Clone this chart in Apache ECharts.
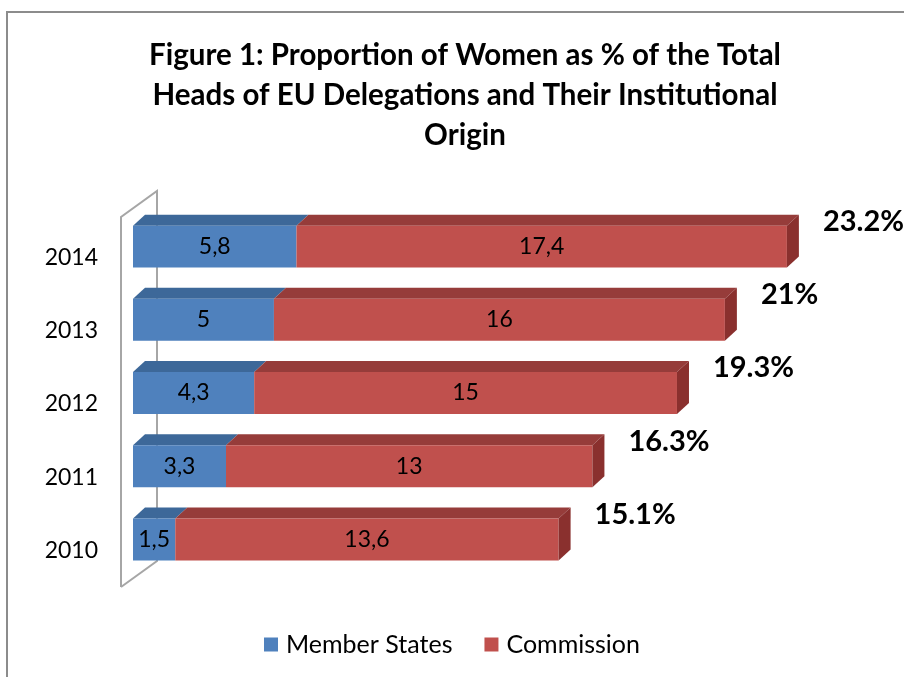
<!DOCTYPE html>
<html>
<head>
<meta charset="utf-8">
<script src="https://cdn.jsdelivr.net/npm/echarts@6/dist/echarts.min.js"></script>
<style>
  html, body { margin: 0; padding: 0; background: #fff; }
  #chart { width: 904px; height: 677px; }
</style>
</head>
<body>
<div id="chart"></div>
<script>
// data (bottom to top)
const years = ['2010', '2011', '2012', '2013', '2014'];
const memberStates = [1.5, 3.3, 4.3, 5, 5.8];
const commission = [13.6, 13, 15, 16, 17.4];
const totals = [15.1, 16.3, 19.3, 21, 23.2];

const FONT = 'Lato, "Open Sans", sans-serif';

// comma decimals like the original
const fmt = v => String(v).replace('.', ',');

// 3D-looking bar segment: top face, front face, optional right side
function barRenderer(colors, withSide) {
    return function (params, api) {
        const cat = api.value(0);
        const p0 = api.coord([api.value(1), cat]);
        const p1 = api.coord([api.value(2), cat]);
        const band = api.size([0, 1])[1];
        const h = band * 0.573;
        const dx = 12, dy = 11;
        const x0 = p0[0], x1 = p1[0];
        const y0 = p0[1] - band * 0.15 - h / 2;

        const children = [
            {
                type: 'polygon',
                shape: { points: [[x0, y0], [x1, y0], [x1 + dx, y0 - dy], [x0 + dx, y0 - dy]] },
                style: { fill: colors.top }
            },
            {
                type: 'rect',
                shape: { x: x0, y: y0, width: x1 - x0, height: h },
                style: { fill: colors.front }
            },
            {
                type: 'text',
                x: (x0 + x1) / 2, y: y0 + h / 2,
                style: {
                    text: fmt(api.value(3)), fill: '#000',
                    font: '23px ' + FONT, align: 'center', verticalAlign: 'middle'
                }
            }
        ];
        if (withSide) {
            children.push({
                type: 'polygon',
                shape: { points: [[x1, y0], [x1 + dx, y0 - dy], [x1 + dx, y0 + h - dy], [x1, y0 + h]] },
                style: { fill: colors.side }
            });
            children.push({
                type: 'text',
                x: x1 + dx + 24, y: y0 - 4,
                style: {
                    text: api.value(4) + '%', fill: '#000',
                    font: 'bold 29px ' + FONT, align: 'left', verticalAlign: 'middle'
                }
            });
        }
        return { type: 'group', children: children };
    };
}

const msData = years.map((y, i) => [i, 0, memberStates[i], memberStates[i]]);
const coData = years.map((y, i) => [i, memberStates[i], memberStates[i] + commission[i], commission[i], totals[i]]);

const chart = echarts.init(document.getElementById('chart'));

const gl = 133, gt = 221, gh = 366;

chart.setOption({
    backgroundColor: '#fff',
    animation: false,
    title: {
        text: 'Figure 1: Proportion of Women as % of the Total\nHeads of EU Delegations and Their Institutional\nOrigin',
        left: 460, top: 30, textAlign: 'center',
        textStyle: { fontFamily: FONT, fontWeight: 'bold', fontSize: 29.5, lineHeight: 40, color: '#000' }
    },
    legend: {
        bottom: 15, left: 'center',
        itemWidth: 14, itemHeight: 14, itemGap: 32, icon: 'rect',
        textStyle: { fontFamily: FONT, fontSize: 25, color: '#000', padding: [0, 0, 0, 3] },
        data: ['Member States', 'Commission']
    },
    grid: { left: gl, top: gt, height: gh, right: 10 },
    xAxis: {
        type: 'value', min: 0, max: 27,
        show: false
    },
    yAxis: {
        type: 'category', data: years,
        axisLine: { show: false }, axisTick: { show: false },
        axisLabel: { fontFamily: FONT, fontSize: 23, color: '#000', margin: 35 }
    },
    graphic: [
        // chart frame
        { type: 'polyline', z: 0, shape: { points: [[7, 677], [7, 12], [904, 12]] },
          style: { stroke: '#8c8c8c', lineWidth: 2, fill: null } },
        // 3D axis wall
        { type: 'polyline', z: 0, shape: { points: [[121, gt + gh], [121, gt - 4], [157, gt - 30], [157, gt + gh - 26], [121, gt + gh]] },
          style: { stroke: '#a6a6a6', lineWidth: 2, fill: null } }
    ],
    series: [
        {
            name: 'Member States', type: 'custom', z: 5,
            itemStyle: { color: '#4F81BD' },
            renderItem: barRenderer({ top: '#3D6899', front: '#4F81BD' }, false),
            encode: { x: [1, 2], y: 0 },
            data: msData
        },
        {
            name: 'Commission', type: 'custom', z: 5,
            itemStyle: { color: '#C0504D' },
            renderItem: barRenderer({ top: '#963C3A', front: '#C0504D', side: '#8A302E' }, true),
            encode: { x: [1, 2], y: 0 },
            data: coData
        }
    ]
});
</script>
</body>
</html>
